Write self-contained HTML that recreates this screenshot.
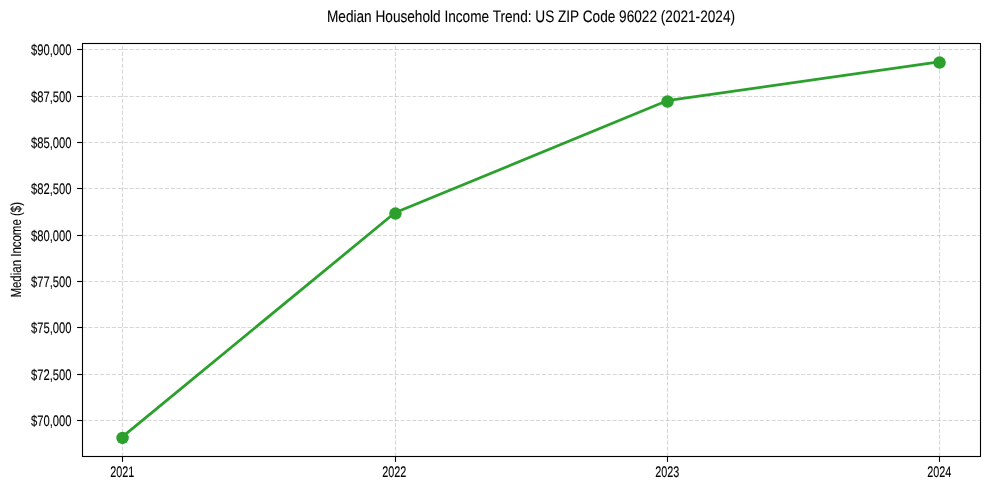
<!DOCTYPE html>
<html lang="en">
<head>
<meta charset="utf-8">
<title>Median Household Income Trend</title>
<style>
html,body{margin:0;padding:0;background:#fff;}
body{width:989px;height:490px;overflow:hidden;}
svg{display:block;}
text{font-family:"Liberation Sans",sans-serif;fill:#000;stroke:#000;stroke-width:0.1px;text-rendering:geometricPrecision;}
</style>
</head>
<body>
<svg width="989" height="490" viewBox="0 0 989 490">
<rect x="0" y="0" width="989" height="490" fill="#ffffff"/>
<g stroke="#b0b0b0" stroke-opacity="0.5" stroke-width="1.11" stroke-dasharray="4.11 1.78" fill="none">
<line x1="122.5" y1="456.5" x2="122.5" y2="43.5"/>
<line x1="395.5" y1="456.5" x2="395.5" y2="43.5"/>
<line x1="667.5" y1="456.5" x2="667.5" y2="43.5"/>
<line x1="939.5" y1="456.5" x2="939.5" y2="43.5"/>
<line x1="82.5" y1="49.5" x2="980.5" y2="49.5"/>
<line x1="82.5" y1="96.5" x2="980.5" y2="96.5"/>
<line x1="82.5" y1="142.5" x2="980.5" y2="142.5"/>
<line x1="82.5" y1="188.5" x2="980.5" y2="188.5"/>
<line x1="82.5" y1="235.5" x2="980.5" y2="235.5"/>
<line x1="82.5" y1="281.5" x2="980.5" y2="281.5"/>
<line x1="82.5" y1="327.5" x2="980.5" y2="327.5"/>
<line x1="82.5" y1="374.5" x2="980.5" y2="374.5"/>
<line x1="82.5" y1="420.5" x2="980.5" y2="420.5"/>
</g>
<polyline points="122.05,437.1 394.95,212.8 667.05,100.7 939.05,61.8" fill="none" stroke="#2ca02c" stroke-width="2.78" stroke-linejoin="round" stroke-linecap="butt"/>
<circle cx="122.55" cy="437.9" r="6.25" fill="#2ca02c"/>
<circle cx="395.45" cy="213.6" r="6.25" fill="#2ca02c"/>
<circle cx="667.55" cy="101.5" r="6.25" fill="#2ca02c"/>
<circle cx="939.55" cy="62.6" r="6.25" fill="#2ca02c"/>
<g stroke="#000" stroke-width="1.11" fill="none">
<line x1="122.5" y1="456.5" x2="122.5" y2="461.86"/>
<line x1="395.5" y1="456.5" x2="395.5" y2="461.86"/>
<line x1="667.5" y1="456.5" x2="667.5" y2="461.86"/>
<line x1="939.5" y1="456.5" x2="939.5" y2="461.86"/>
<line x1="82.5" y1="49.5" x2="77.14" y2="49.5"/>
<line x1="82.5" y1="96.5" x2="77.14" y2="96.5"/>
<line x1="82.5" y1="142.5" x2="77.14" y2="142.5"/>
<line x1="82.5" y1="188.5" x2="77.14" y2="188.5"/>
<line x1="82.5" y1="235.5" x2="77.14" y2="235.5"/>
<line x1="82.5" y1="281.5" x2="77.14" y2="281.5"/>
<line x1="82.5" y1="327.5" x2="77.14" y2="327.5"/>
<line x1="82.5" y1="374.5" x2="77.14" y2="374.5"/>
<line x1="82.5" y1="420.5" x2="77.14" y2="420.5"/>
</g>
<rect x="82.5" y="43.5" width="898.0" height="413.0" fill="none" stroke="#000" stroke-width="1.11"/>
<text transform="translate(122.3,476.9) scale(0.78,1.1)" font-size="13.89" text-anchor="middle">2021</text>
<text transform="translate(394.2,476.9) scale(0.78,1.1)" font-size="13.89" text-anchor="middle">2022</text>
<text transform="translate(667.3,476.9) scale(0.78,1.1)" font-size="13.89" text-anchor="middle">2023</text>
<text transform="translate(939.3,476.9) scale(0.78,1.1)" font-size="13.89" text-anchor="middle">2024</text>
<text transform="translate(71.6,54.8) scale(0.81,1.1)" font-size="13.89" text-anchor="end">$90,000</text>
<text transform="translate(71.6,101.8) scale(0.81,1.1)" font-size="13.89" text-anchor="end">$87,500</text>
<text transform="translate(71.6,147.8) scale(0.81,1.1)" font-size="13.89" text-anchor="end">$85,000</text>
<text transform="translate(71.6,193.8) scale(0.81,1.1)" font-size="13.89" text-anchor="end">$82,500</text>
<text transform="translate(71.6,240.8) scale(0.81,1.1)" font-size="13.89" text-anchor="end">$80,000</text>
<text transform="translate(71.6,286.8) scale(0.81,1.1)" font-size="13.89" text-anchor="end">$77,500</text>
<text transform="translate(71.6,332.8) scale(0.81,1.1)" font-size="13.89" text-anchor="end">$75,000</text>
<text transform="translate(71.6,379.8) scale(0.81,1.1)" font-size="13.89" text-anchor="end">$72,500</text>
<text transform="translate(71.6,425.8) scale(0.81,1.1)" font-size="13.89" text-anchor="end">$70,000</text>
<text transform="translate(21.1,249.8) rotate(-90) scale(0.826,1.05)" font-size="13.89" text-anchor="middle">Median Income ($)</text>
<text transform="translate(531.0,22.0) scale(0.818,1)" font-size="16.67" text-anchor="middle">Median Household Income Trend: US ZIP Code 96022 (2021-2024)</text>
</svg>
</body>
</html>
